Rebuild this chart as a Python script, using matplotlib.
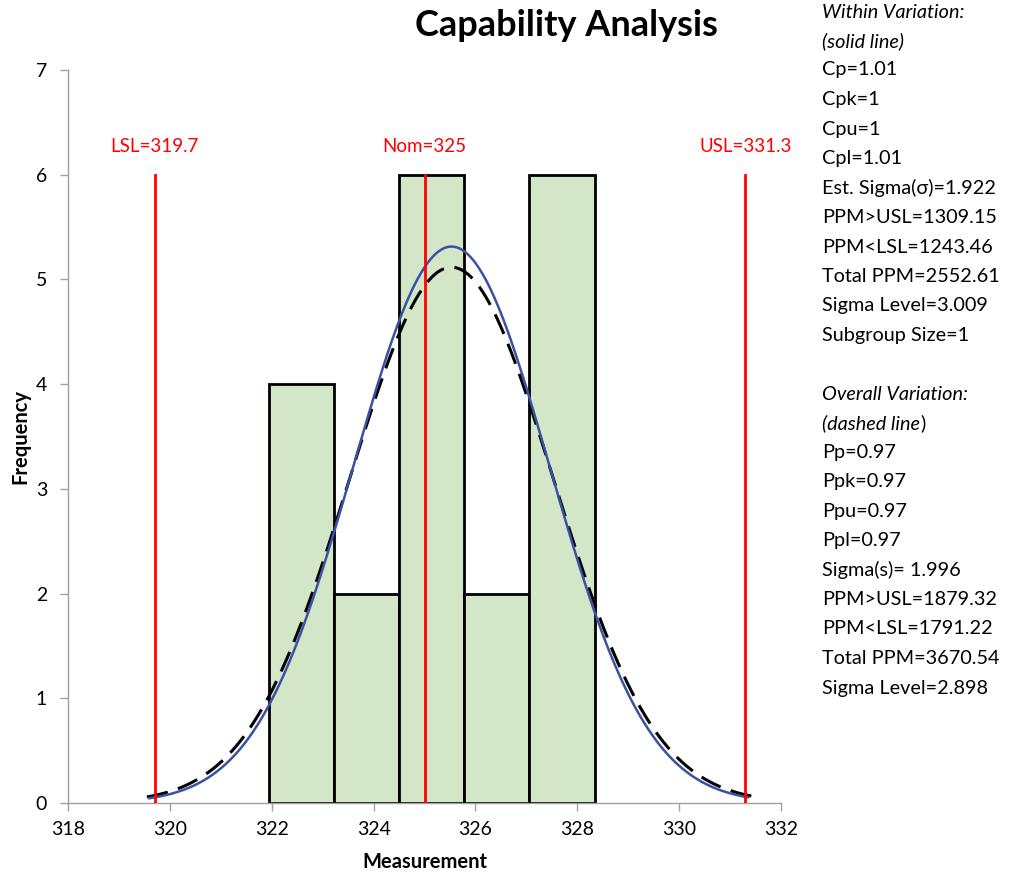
import numpy as np
import matplotlib
matplotlib.use("Agg")
import matplotlib.pyplot as plt

plt.rcParams['font.family'] = ['Lato', 'DejaVu Sans']

# ---- data ----
bin_edges = [321.94, 323.22, 324.50, 325.78, 327.06, 328.34]
counts = [4, 2, 6, 2, 6]
LSL, NOM, USL = 319.7, 325.0, 331.3
mean = 325.53
sigma_within = 1.922
sigma_overall = 1.996
n_obs = 20
spec_values = [LSL, NOM, USL]
spec_labels = ["LSL=319.7", "Nom=325", "USL=331.3"]
x_ticks = [318, 320, 322, 324, 326, 328, 330, 332]
y_ticks = [0, 1, 2, 3, 4, 5, 6, 7]

within_lines = ["Cp=1.01", "Cpk=1", "Cpu=1", "Cpl=1.01", "Est. Sigma(σ)=1.922",
                "PPM>USL=1309.15", "PPM<LSL=1243.46", "Total PPM=2552.61",
                "Sigma Level=3.009", "Subgroup Size=1"]
overall_lines = ["Pp=0.97", "Ppk=0.97", "Ppu=0.97", "Ppl=0.97", "Sigma(s)= 1.996",
                 "PPM>USL=1879.32", "PPM<LSL=1791.22", "Total PPM=3670.54",
                 "Sigma Level=2.898"]

fig = plt.figure(figsize=(10.31, 8.8), dpi=100)
ax = fig.add_axes([68/1031, 77/880, 713/1031, 733/880])

widths = np.diff(bin_edges)
ax.bar(bin_edges[:-1], counts, width=widths, align='edge', color='#D3E6C7',
       edgecolor='black', linewidth=2, zorder=2)

binw = float(np.mean(widths))
def curve(sig, lo, hi):
    x = np.linspace(lo, hi, 400)
    y = n_obs * binw * np.exp(-0.5 * ((x - mean) / sig) ** 2) / (sig * np.sqrt(2 * np.pi))
    return x, y

xw, yw = curve(sigma_within, 319.6, 331.35)
xo, yo = curve(sigma_overall, 319.55, 331.45)
ax.plot(xo, yo, color='black', linewidth=2.2, dashes=(7, 3.5), zorder=3)
ax.plot(xw, yw, color='#3A52A3', linewidth=1.8, zorder=4)

for v, lab in zip(spec_values, spec_labels):
    ax.plot([v, v], [0, 6], color='red', linewidth=2, zorder=5)
    ax.text(v, 6.27, lab, color='red', ha='center', va='center', fontsize=13.5)

ax.set_xlim(318, 332)
ax.set_ylim(0, 7)
ax.set_xticks(x_ticks)
ax.set_yticks(y_ticks)
ax.tick_params(axis='both', labelsize=14, color='#A0A0A0', length=6, width=1, direction='out')
ax.tick_params(axis='x', pad=7)
ax.tick_params(axis='y', pad=9)
for s in ['top', 'right']:
    ax.spines[s].set_visible(False)
for s in ['left', 'bottom']:
    ax.spines[s].set_color('#A0A0A0')
    ax.spines[s].set_linewidth(1)

ax.set_xlabel("Measurement", fontsize=14.5, fontweight='bold', labelpad=10)
ax.set_ylabel("Frequency", fontsize=14.5, fontweight='bold', labelpad=4)

fig.text(566/1031, 1 - 25/880, "Capability Analysis", ha='center', va='center',
         fontsize=26, fontweight='bold')

x0 = 822 / 1031
step = 29.5
fs = 14.3
def ty(py):
    return 1 - py / 880

fig.text(x0, ty(12), "Within Variation:", style='italic', fontsize=fs, va='center')
fig.text(x0, ty(41), "(solid line)", style='italic', fontsize=fs, va='center')
for i, t in enumerate(within_lines):
    fig.text(x0, ty(70 + i * step), t, fontsize=fs, va='center')

fig.text(x0, ty(394), "Overall Variation:", style='italic', fontsize=fs, va='center')
t1 = fig.text(x0, ty(423), "(dashed line", style='italic', fontsize=fs, va='center')
fig.canvas.draw()
bb = t1.get_window_extent()
fig.text(bb.x1 / fig.bbox.width, ty(423), ")", fontsize=fs, va='center')
for i, t in enumerate(overall_lines):
    fig.text(x0, ty(452 + i * step), t, fontsize=fs, va='center')

fig.savefig("out.png", dpi=100)
